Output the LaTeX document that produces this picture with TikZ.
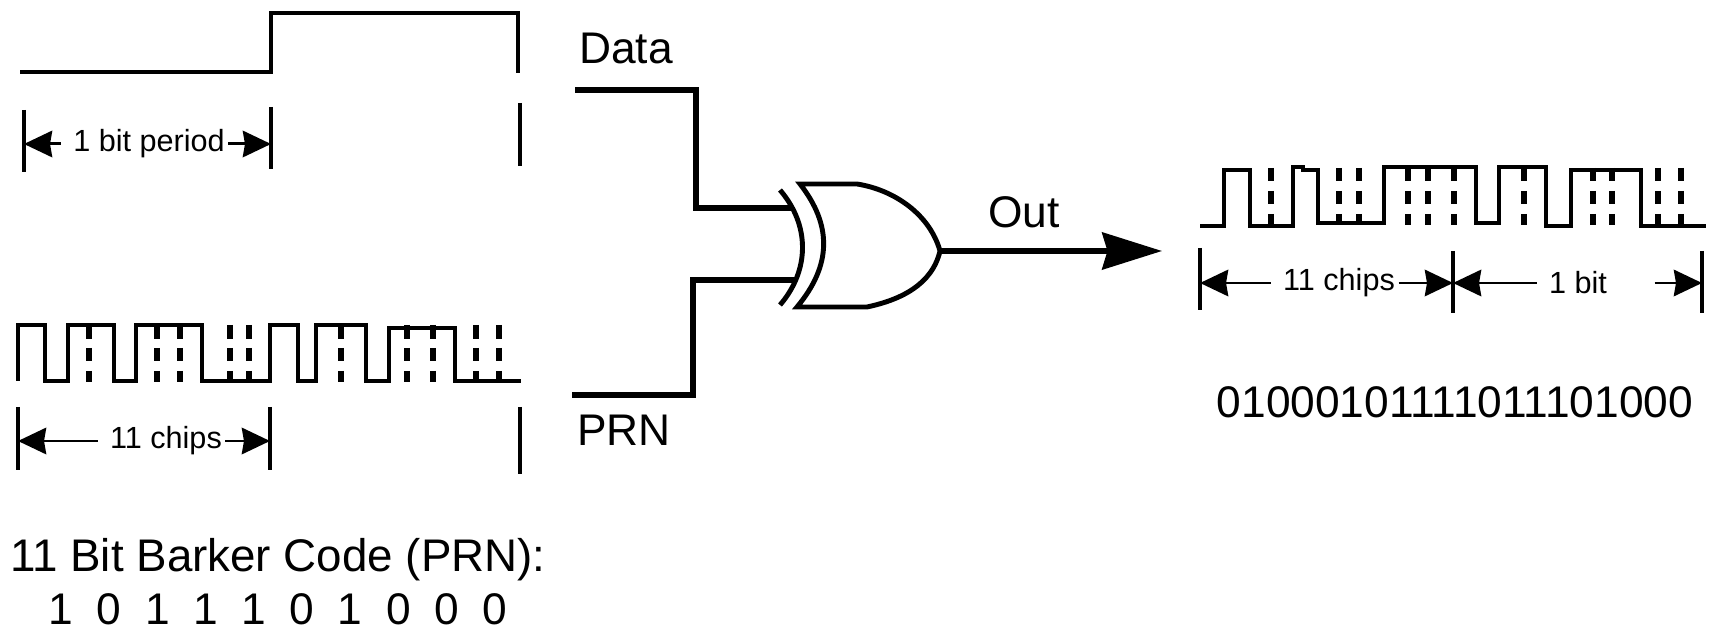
\documentclass[tikz,border=0pt]{standalone}
\usepackage{fontspec}
\setmainfont{Liberation Sans}
\usetikzlibrary{arrows.meta,positioning}

\tikzset{
  wave/.style={line width=0.95pt, line join=miter},
  chipdash/.style={line width=1.85pt, dash pattern=on 3.84pt off 2.7pt},
  tick/.style={line width=0.9pt},
  wire/.style={line width=1.6pt},
  gateline/.style={line width=1.4pt},
  dimarrow/.style={line width=0.85pt, -{Stealth[length=8pt, width=7.5pt, inset=0.6pt]}},
  dimnear/.style={dimarrow, shorten <=-2.5pt},
  smalltext/.style={font=\fontsize{8.7}{10}\selectfont},
  bigtext/.style={font=\fontsize{12.6}{15}\selectfont},
}

\begin{document}
\begin{tikzpicture}[x=0.01cm, y=-0.01cm]
  \useasboundingbox (0,0) rectangle (1716,628);

  % data bit
  \draw[wave] (20,72) -- (271,72) -- (271,13) -- (518,13) -- (518,73);
  \coordinate (bitL) at (24,144);
  \coordinate (bitM) at (271,144);
  \draw[tick] (24,110) -- (24,172);
  \draw[tick] (271,107) -- (271,169);
  \draw[tick] (520,103) -- (520,166);
  \node[smalltext] (bitperiod) at (149,144) {1 bit period};
  \draw[dimarrow] (bitperiod) -- (bitL);
  \draw[dimnear] (bitperiod) -- (bitM);

  % barker chips
  \draw[wave] (18,381) -- (18,325) -- (45,325) -- (45,381) -- (68,381) -- (68,325) -- (114,325) -- (114,381)
    -- (136,381) -- (136,325) -- (202,325) -- (202,381) -- (270,381) -- (270,325) -- (298,325) -- (298,381)
    -- (316,381) -- (316,325) -- (366,325) -- (366,381) -- (389,381) -- (389,328) -- (455,328) -- (455,381) -- (521,381);
  \foreach \x in {89,157,180,230,249,341,407,433,476,499}
    \draw[chipdash] (\x,325) -- (\x,382);
  \coordinate (chipL) at (18,441);
  \coordinate (chipM) at (270,441);
  \draw[tick] (18,407) -- (18,470);
  \draw[tick] (270,407) -- (270,470);
  \draw[tick] (520,407) -- (520,474);
  \node[smalltext] (chips) at (166,441) {1{}1 chips};
  \draw[dimarrow] (chips) -- (chipL);
  \draw[dimnear] (chips) -- (chipM);

  \node[bigtext, font=\fontsize{13}{15}\selectfont] (barkertitle) at (278,560) {1{}1 Bit Barker Code (PRN):};
  \node[bigtext, below=-0.13cm of barkertitle] (barkerbits) {\spaceskip=6.7pt 1 0 1 1 1 0 1 0 0 0};

  % xor gate
  \coordinate (gatea) at (793,208);
  \coordinate (gateb) at (795,280);
  \coordinate (gateout) at (940,251);
  \draw[gateline] (780,190) .. controls (810,225) and (810,270) .. (780,305);
  \draw[gateline, line join=miter] (800,184) .. controls (832,225) and (832,265) .. (797,307)
    -- (867,307) .. controls (900,300) and (932,285) .. (gateout)
    .. controls (930,215) and (895,190) .. (857,184) -- cycle;

  \coordinate (datain) at (575,90);
  \coordinate (datacorner) at (696,90);
  \coordinate (databend) at (696,208);
  \coordinate (prnin) at (572,395);
  \coordinate (prncorner) at (693,395);
  \coordinate (prnbend) at (693,280);
  \coordinate (outend) at (1162,251);
  \draw[wire] (datain) -- (datacorner) -- (databend) -- (gatea);
  \draw[wire] (prnin) -- (prncorner) -- (prnbend) -- (gateb);
  \draw[wire, -{Stealth[length=17pt, width=10.5pt, inset=1.5pt]}] (gateout) -- (outend);

  \node[bigtext] (datalabel) at (626,48) {Data};
  \node[bigtext] (prnlabel) at (624,430) {PRN};
  \node[bigtext] (outlabel) at (1024,212) {Out};

  % output sequence
  \draw[wave] (1200,226) -- (1224,226) -- (1224,170) -- (1250,170) -- (1250,226) -- (1293,226) -- (1293,167)
    -- (1303,167) -- (1303,170) -- (1318,170) -- (1318,223) -- (1384,223) -- (1384,167) -- (1476,167) -- (1476,223)
    -- (1499,223) -- (1499,167) -- (1546,167) -- (1546,226) -- (1571,226) -- (1571,170) -- (1641,170) -- (1641,226) -- (1706,226);
  \foreach \x in {1271,1339,1359,1408,1428,1454,1524,1593,1612,1658,1681}
    \draw[chipdash] (\x,168) -- (\x,225);
  \coordinate (outL) at (1200,283);
  \coordinate (outM) at (1453,283);
  \coordinate (outR) at (1702,283);
  \draw[tick] (1200,248) -- (1200,310);
  \draw[tick] (1453,251) -- (1453,313);
  \draw[tick] (1702,251) -- (1702,313);
  \node[smalltext] (outchips) at (1339,283) {1{}1 chips};
  \node[smalltext] (outbit) at (1578,283) {1 bit};
  \draw[dimarrow] (outchips) -- (outL);
  \draw[dimnear] (outchips) -- (outM);
  \draw[dimarrow] (outbit) -- (outM);
  \draw[dimarrow, shorten <=10pt] (outbit) -- (outR);

  \node[bigtext] (outbits) at (1455,402) {01000101111011101000};
\end{tikzpicture}
\end{document}
